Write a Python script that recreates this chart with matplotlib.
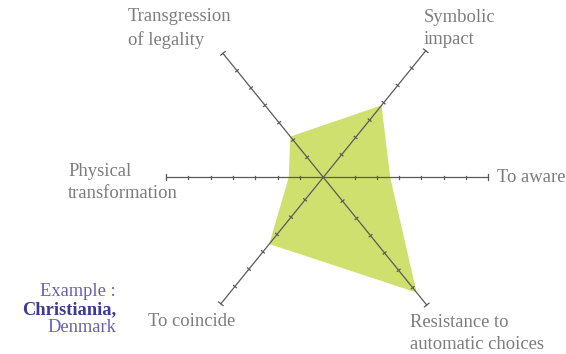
import numpy as np
import matplotlib
matplotlib.use("Agg")
import matplotlib.pyplot as plt

# ---- data ----
categories = ["To aware", "Symbolic\nimpact", "Transgression\nof legality",
              "Physical\ntransformation", "To coincide", "Resistance to\nautomatic choices"]
angles_deg = [0, 51, 129, 180, 231, 309]
values = [3.0, 4.15, 2.35, 1.55, 3.85, 6.65]          # in tick units
axis_lengths = [7.4, 7.3, 7.15, 7.05, 7.3, 7.37]       # in tick units
n_ticks = 7

W, H, DPI = 566, 354, 100
fig = plt.figure(figsize=(W / DPI, H / DPI), dpi=DPI)
ax = fig.add_axes([0, 0, 1, 1])
scale = 22.3  # px per unit
cx, cy = 323.3, 177.3
ax.set_xlim(-cx / scale, (W - cx) / scale)
ax.set_ylim(-(H - cy) / scale, cy / scale)
ax.set_aspect("equal")
ax.axis("off")

th = np.deg2rad(angles_deg)
xs = np.array(values) * np.cos(th)
ys = np.array(values) * np.sin(th)
ax.fill(xs, ys, color="#cfe06f", zorder=1, lw=0)

axis_col = "#5a5a5a"
for a, L in zip(th, axis_lengths):
    ux, uy = np.cos(a), np.sin(a)
    px, py = -uy, ux
    ax.plot([0, L * ux], [0, L * uy], color=axis_col, lw=0.9, zorder=2)
    for k in range(n_ticks):
        d = L - k
        h = 0.13 if k == 0 else 0.08
        ax.plot([d * ux - h * px, d * ux + h * px], [d * uy - h * py, d * uy + h * py],
                color=axis_col, lw=0.9, zorder=2)

def px2d(x, y):
    return (x - cx) / scale, (cy - y) / scale

lab_col = "#7c7c7c"
font = "Liberation Serif"
fs = 13.4
label_pos = [(497, 178, "left", "center"),
             (424, 28.5, "left", "center"),
             (128, 28.5, "left", "center"),
             (68, 182.5, "left", "center"),
             (148, 322, "left", "center"),
             (410, 333.5, "left", "center")]
for txt, (x, y, ha, va) in zip(categories, label_pos):
    dx, dy = px2d(x, y)
    ax.text(dx, dy, txt, ha=ha, va=va, color=lab_col, fontsize=fs, family=font,
            linespacing=1.42)

# example caption
ex_col = "#6a5fb8"
efs = 13.3
dx, dy = px2d(116, 292)
ax.text(dx, dy, "Example :", ha="right", va="center", color=ex_col, fontsize=efs, family=font)
dx, dy = px2d(116, 310)
ax.text(dx, dy, "Christiania,", ha="right", va="center", color="#3e3a8e", fontsize=efs,
        family=font, fontweight="bold")
dx, dy = px2d(116, 327)
ax.text(dx, dy, "Denmark", ha="right", va="center", color=ex_col, fontsize=efs, family=font)

fig.savefig("out.png", dpi=DPI)
